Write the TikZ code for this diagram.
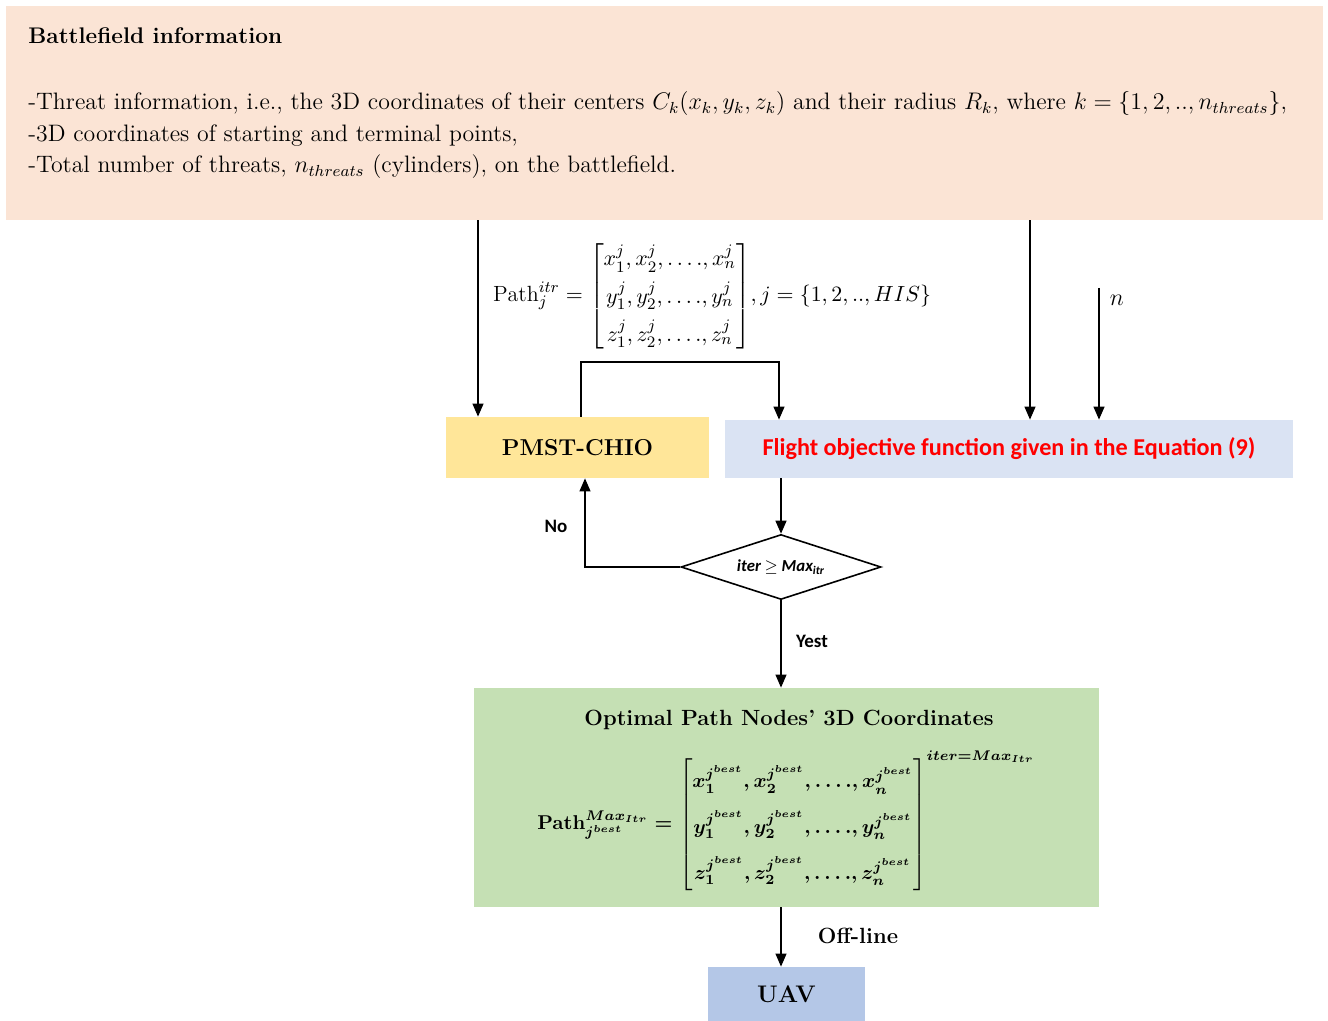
\documentclass[tikz,border=0pt]{standalone}
\usepackage{amsmath}
\usepackage{fontspec}
\newfontfamily\calfont{Carlito}
\usetikzlibrary{shapes.geometric,arrows.meta}

\definecolor{infobg}{HTML}{FBE4D5}
\definecolor{pmstbg}{HTML}{FFE699}
\definecolor{flightbg}{HTML}{DAE3F3}
\definecolor{optbg}{HTML}{C5E0B4}
\definecolor{uavbg}{HTML}{B4C7E7}

\newcommand{\jb}{j^{best}}
\newsavebox{\popbox}
\newsavebox{\bestbox}

\begin{document}
\sbox{\popbox}{\fontsize{11}{13}\selectfont\renewcommand{\arraystretch}{1.45}%
  $\mathrm{Path}_j^{itr}=\begin{bmatrix}x_1^j,x_2^j,\ldots.,x_n^j\\ y_1^j,y_2^j,\ldots.,y_n^j\\ z_1^j,z_2^j,\ldots.,z_n^j\end{bmatrix}\!,j=\{1,2,..,HIS\}$}
\sbox{\bestbox}{\fontsize{10}{12}\selectfont\boldmath\renewcommand{\arraystretch}{1.9}%
  $\mathbf{Path}_{\jb}^{Max_{Itr}}=\begin{bmatrix}x_1^{\jb},x_2^{\jb},\ldots.,x_n^{\jb}\\ y_1^{\jb},y_2^{\jb},\ldots.,y_n^{\jb}\\ z_1^{\jb},z_2^{\jb},\ldots.,z_n^{\jb}\end{bmatrix}^{iter=Max_{Itr}}$}
\begin{tikzpicture}[x=0.5pt,y=-0.5pt,
    box/.style={rectangle,inner sep=0pt},
    arr/.style={-{Triangle[length=6.5pt,width=5.5pt]},line width=0.6pt},
    lbl/.style={font=\calfont\bfseries\fontsize{9.5}{11}\selectfont}]

    \useasboundingbox (0,0) rectangle (1328,1021);

    % battlefield information
    \node[box,fill=infobg,minimum width=658.5pt,minimum height=107pt] (info) at (664.5,113) {};
    \begin{scope}[every node/.style={anchor=base west,inner sep=0pt,font=\fontsize{11.9}{14}\selectfont}]
      \node[font=\fontsize{11.3}{13}\selectfont\bfseries] (infotitle) at (28,44) {Battlefield information};
      \node (threat) at (28,110) {-Threat information, i.e., the 3D coordinates of their centers $C_k(x_k,y_k,z_k)$ and their radius $R_k$, where $k=\{1,2,..,n_{threats}\}$,};
      \node (points) at (28,142) {-3D coordinates of starting and terminal points,};
      \node (total) at (28,173) {-Total number of threats, $n_{threats}$ (cylinders), on the battlefield.};
    \end{scope}

    % path of the population
    \node (pathj) at (712,296) {\usebox{\popbox}};
    \node[font=\fontsize{13}{15}\selectfont] (nlbl) at (1117,300) {$n$};

    % boxes
    \node[box,fill=pmstbg,minimum width=131.5pt,minimum height=30.5pt,
      font=\fontsize{11.5}{13}\selectfont\bfseries] (pmst) at (577.5,447.5) {PMST-CHIO};
    \node[box,fill=flightbg,minimum width=284pt,minimum height=29pt,text=red,
      font=\calfont\bfseries\fontsize{12.1}{14}\selectfont] (flight) at (1009,449)
      {Flight objective function given in the Equation (9)};
    \node[diamond,draw,line width=0.8pt,aspect=3,inner sep=0pt,minimum width=100pt,minimum height=32.5pt,
      font=\calfont\bfseries\itshape\fontsize{8.4}{10}\selectfont] (dec) at (781,567)
      {iter $\geq$ Max\textsubscript{itr}};
    \node[box,fill=optbg,minimum width=312.5pt,minimum height=109.5pt] (opt) at (786.5,797.5) {};
    \node[font=\fontsize{11}{13}\selectfont\bfseries] (opttitle) at (789,720) {Optimal Path Nodes' 3D Coordinates};
    \node (optpath) at (786,822) {\usebox{\bestbox}};
    \node[box,fill=uavbg,minimum width=78.5pt,minimum height=27pt,
      font=\fontsize{12}{14}\selectfont\bfseries] (uav) at (786.5,994) {UAV};

    % connectors
    \coordinate (c1) at (478,0);
    \coordinate (c2) at (1030,0);
    \coordinate (ntop) at (1099,288);
    \coordinate (lpa) at (581,362);
    \coordinate (lpb) at (779,362);
    \coordinate (c3) at (585,0);
    \coordinate (c4) at (781,0);

    \draw[arr] (info.south -| c1) -- (pmst.north -| c1);
    \draw[arr] (info.south -| c2) -- (flight.north -| c2);
    \draw[arr] (ntop) -- (flight.north -| ntop);
    \draw[arr] (pmst.north -| lpa) -- (lpa) -- (lpb) -- (flight.north -| lpb);
    \draw[arr] (flight.south -| dec.north) -- (dec.north);
    \draw[arr] (dec.west) -| (pmst.south -| c3);
    \draw[arr] (dec.south) -- (opt.north -| dec.south);
    \draw[arr] (opt.south -| c4) -- (uav.north -| c4);

    \node[lbl] (nolbl) at (556,526) {No};
    \node[lbl] (yeslbl) at (812,641) {Yest};
    \node[font=\fontsize{11}{13}\selectfont\bfseries] (offlbl) at (858,936) {Off-line};

  \end{tikzpicture}
\end{document}
